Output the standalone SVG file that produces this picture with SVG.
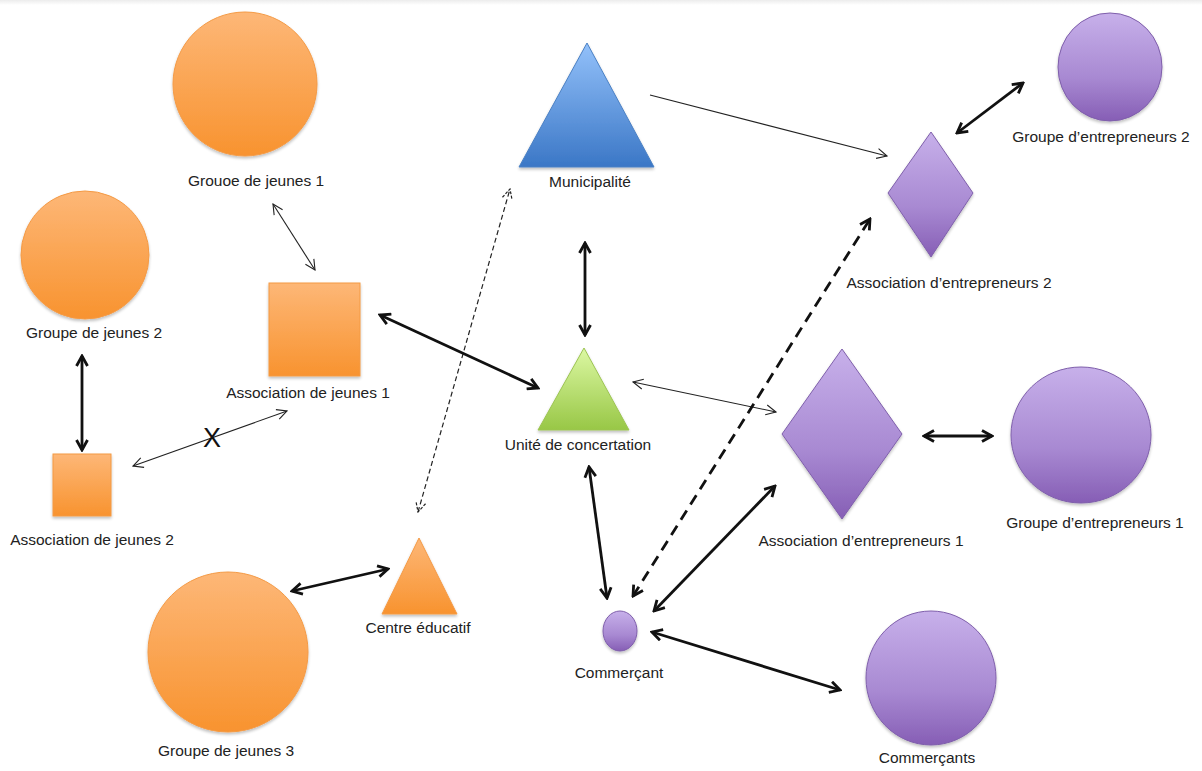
<svg xmlns="http://www.w3.org/2000/svg" width="1202" height="771" viewBox="0 0 1202 771">
<defs>
<linearGradient id="gOr" x1="0" y1="0" x2="0" y2="1"><stop offset="0" stop-color="#fdb777"/><stop offset="1" stop-color="#f8932f"/></linearGradient>
<linearGradient id="gPu" x1="0" y1="0" x2="0" y2="1"><stop offset="0" stop-color="#c7b0ea"/><stop offset="0.6" stop-color="#a889d2"/><stop offset="1" stop-color="#865eb5"/></linearGradient>
<linearGradient id="gBl" x1="0" y1="0" x2="0" y2="1"><stop offset="0" stop-color="#93c1fa"/><stop offset="1" stop-color="#3b77c6"/></linearGradient>
<linearGradient id="gGr" x1="0" y1="0" x2="0" y2="1"><stop offset="0" stop-color="#dcf8a3"/><stop offset="1" stop-color="#98c746"/></linearGradient>
<linearGradient id="gTop" x1="0" y1="0" x2="0" y2="1"><stop offset="0" stop-color="#ececec"/><stop offset="1" stop-color="#ffffff"/></linearGradient>
<filter id="sh" x="-20%" y="-20%" width="140%" height="140%"><feGaussianBlur in="SourceAlpha" stdDeviation="1.5"/><feOffset dx="0" dy="2"/><feComponentTransfer><feFuncA type="linear" slope="0.25"/></feComponentTransfer><feMerge><feMergeNode/><feMergeNode in="SourceGraphic"/></feMerge></filter>
<marker id="thin" viewBox="0 0 12 12" refX="11" refY="6" markerWidth="12" markerHeight="12" markerUnits="userSpaceOnUse" orient="auto-start-reverse"><path d="M1,1 L11,6 L1,11" fill="none" stroke="#222" stroke-width="1.1"/></marker>
<marker id="thick" viewBox="0 0 14 14" refX="12" refY="7" markerWidth="14" markerHeight="14" markerUnits="userSpaceOnUse" orient="auto-start-reverse"><path d="M2,1.5 L12,7 L2,12.5" fill="none" stroke="#111" stroke-width="2.8" stroke-linejoin="miter"/></marker>
<marker id="dthin" viewBox="0 0 12 12" refX="11" refY="6" markerWidth="12" markerHeight="12" markerUnits="userSpaceOnUse" orient="auto-start-reverse"><path d="M1,1 L11,6 L1,11" fill="none" stroke="#222" stroke-width="1.2" stroke-dasharray="3,1.5"/></marker>
</defs>
<style>
.lbl{font-family:"Liberation Sans",Arial,sans-serif;font-size:15.5px;fill:#222;text-anchor:middle}
.or{fill:url(#gOr);stroke:#f49a45;stroke-width:1;filter:url(#sh)}
.pu{fill:url(#gPu);stroke:#7f5fab;stroke-width:1;filter:url(#sh)}
.bl{fill:url(#gBl);stroke:#4a80c4;stroke-width:1;filter:url(#sh)}
.gr{fill:url(#gGr);stroke:#9cc452;stroke-width:1;filter:url(#sh)}
.c1{fill:none;stroke:#222;stroke-width:1.1}
.c3{fill:none;stroke:#111;stroke-width:2.8}
</style>
<rect x="0" y="0" width="1202" height="771" fill="#ffffff"/>
<rect x="0" y="0" width="1202" height="5" fill="url(#gTop)"/>

<g id="groupe-jeunes-1"><circle class="or" cx="245" cy="84" r="72"/><text class="lbl" x="256" y="186">Grouoe de jeunes 1</text></g>
<g id="groupe-jeunes-2"><circle class="or" cx="85" cy="255" r="64"/><text class="lbl" x="94" y="338">Groupe de jeunes 2</text></g>
<g id="association-jeunes-1"><rect class="or" x="269" y="283" width="91" height="93"/><text class="lbl" x="308" y="398">Association de jeunes 1</text></g>
<g id="association-jeunes-2"><rect class="or" x="53" y="454" width="58" height="62"/><text class="lbl" x="92" y="545">Association de jeunes 2</text></g>
<g id="centre-educatif"><polygon class="or" points="419,538 457,614 382,614"/><text class="lbl" x="418" y="633">Centre éducatif</text></g>
<g id="groupe-jeunes-3"><circle class="or" cx="228" cy="652" r="80"/><text class="lbl" x="226" y="756">Groupe de jeunes 3</text></g>
<g id="municipalite"><polygon class="bl" points="587,43 654,167 519,167"/><text class="lbl" x="590" y="187">Municipalité</text></g>
<g id="unite-concertation"><polygon class="gr" points="584,348 629,430 538,430"/><text class="lbl" x="578" y="450">Unité de concertation</text></g>
<g id="association-entrepreneurs-2"><polygon class="pu" points="931,132 973,193 931,257 888,193"/><text class="lbl" x="949" y="288">Association d’entrepreneurs 2</text></g>
<g id="groupe-entrepreneurs-2"><ellipse class="pu" cx="1110" cy="67" rx="52" ry="54"/><text class="lbl" x="1101" y="142">Groupe d’entrepreneurs 2</text></g>
<g id="association-entrepreneurs-1"><polygon class="pu" points="842,349 902,434 842,519 782,434"/><text class="lbl" x="861" y="546">Association d’entrepreneurs 1</text></g>
<g id="groupe-entrepreneurs-1"><ellipse class="pu" cx="1081" cy="435" rx="70" ry="68"/><text class="lbl" x="1095" y="528">Groupe d’entrepreneurs 1</text></g>
<g id="commercant"><ellipse class="pu" cx="620" cy="631" rx="17" ry="20"/><text class="lbl" x="619" y="678">Commerçant</text></g>
<g id="commercants"><ellipse class="pu" cx="931" cy="678" rx="65" ry="67"/><text class="lbl" x="927" y="763">Commerçants</text></g>

<g id="connectors">
<line class="c1" x1="273" y1="204" x2="315" y2="270" marker-start="url(#thin)" marker-end="url(#thin)"/>
<line class="c3" x1="82" y1="356" x2="82" y2="450" marker-start="url(#thick)" marker-end="url(#thick)"/>
<line class="c1" x1="133" y1="466" x2="287" y2="411" marker-start="url(#thin)" marker-end="url(#thin)"/>
<text x="212" y="447" style="font-family:'Liberation Sans',Arial,sans-serif;font-size:27px;fill:#111;text-anchor:middle">X</text>
<line x1="418" y1="512" x2="510" y2="189" fill="none" stroke="#222" stroke-width="1.2" stroke-dasharray="5,3" marker-start="url(#dthin)" marker-end="url(#dthin)"/>
<line class="c3" x1="292" y1="591" x2="388" y2="569" marker-start="url(#thick)" marker-end="url(#thick)"/>
<line class="c3" x1="380" y1="315" x2="538" y2="388" marker-start="url(#thick)" marker-end="url(#thick)"/>
<line class="c3" x1="585" y1="243" x2="585" y2="335" marker-start="url(#thick)" marker-end="url(#thick)"/>
<line class="c1" x1="650" y1="95" x2="887" y2="156" marker-end="url(#thin)"/>
<line class="c1" x1="633" y1="382" x2="776" y2="412" marker-start="url(#thin)" marker-end="url(#thin)"/>
<line class="c3" x1="957" y1="133" x2="1023" y2="83" marker-start="url(#thick)" marker-end="url(#thick)"/>
<line class="c3" x1="633" y1="596" x2="870" y2="219" stroke-width="3.2" stroke-dasharray="11,7" marker-start="url(#thick)" marker-end="url(#thick)"/>
<line class="c3" x1="924" y1="436" x2="992" y2="436" marker-start="url(#thick)" marker-end="url(#thick)"/>
<line class="c3" x1="589" y1="467" x2="607" y2="598" marker-start="url(#thick)" marker-end="url(#thick)"/>
<line class="c3" x1="654" y1="611" x2="775" y2="486" marker-start="url(#thick)" marker-end="url(#thick)"/>
<line class="c3" x1="652" y1="632" x2="840" y2="690" marker-start="url(#thick)" marker-end="url(#thick)"/>
</g>
</svg>
